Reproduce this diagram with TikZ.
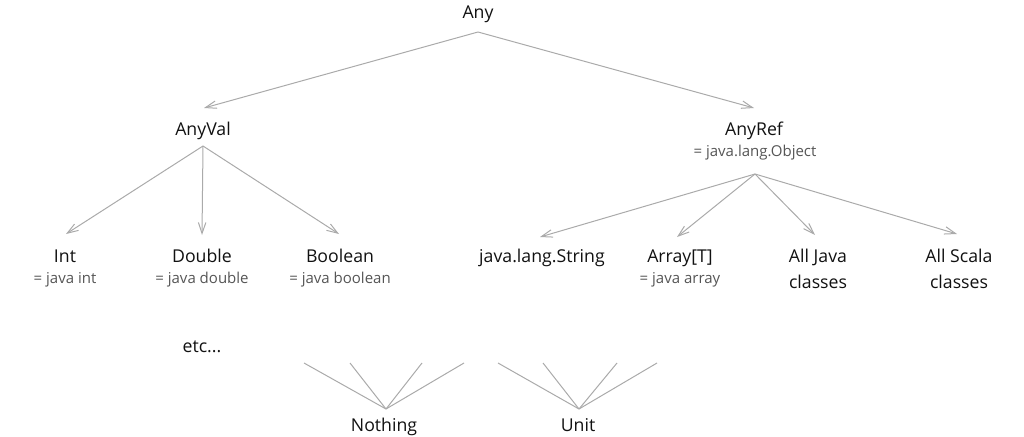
\documentclass[tikz,border=0pt]{standalone}
\usepackage{fontspec}
\setmainfont{Open Sans}
\usetikzlibrary{arrows.meta}
\definecolor{linegray}{RGB}{170,170,170}
\definecolor{subgray}{RGB}{85,85,85}
\definecolor{txt}{RGB}{17,17,17}
\tikzset{
  mainlbl/.style={anchor=base, inner sep=0pt, text=txt, font=\fontsize{17.7}{26}\selectfont},
  sublbl/.style={anchor=base, inner sep=0pt, text=subgray, font=\fontsize{15}{18}\selectfont},
  conn/.style={draw=linegray, line width=1pt},
  arr/.style={conn, -{Straight Barb[length=11pt, width=7.5pt, line width=1pt]}},
}
\begin{document}
\begin{tikzpicture}[x=1pt, y=-1pt]
\useasboundingbox (0,0) rectangle (1024,436);
% nodes
\node[mainlbl] (any) at (478,19) {Any};
\node[mainlbl] (anyval) at (203,135) {AnyVal};
\node[mainlbl] (anyref) at (754,135) {AnyRef};
\node[sublbl] (anyrefsub) at (755,156) {= java.lang.Object};
\node[mainlbl] (int) at (65,262) {Int};
\node[sublbl] (intsub) at (65,283) {= java int};
\node[mainlbl] (double) at (202,262) {Double};
\node[sublbl] (doublesub) at (202,283) {= java double};
\node[mainlbl] (boolean) at (340,262) {Boolean};
\node[sublbl] (booleansub) at (340,283) {= java boolean};
\node[mainlbl] (string) at (542,262) {java.lang.String};
\node[mainlbl] (array) at (680,262) {Array[T]};
\node[sublbl] (arraysub) at (680,283) {= java array};
\node[mainlbl] (alljava) at (818,262) {\begin{tabular}[t]{@{}c@{}}All Java\\classes\end{tabular}};
\node[mainlbl] (allscala) at (959,262) {\begin{tabular}[t]{@{}c@{}}All Scala\\classes\end{tabular}};
\node[mainlbl] (etc) at (202,352) {etc...};
\node[mainlbl] (nothing) at (384,431) {Nothing};
\node[mainlbl] (unit) at (578,431) {Unit};
% apex points
\coordinate (anyapex) at ([yshift=-13pt]any.base);
\coordinate (anyvalapex) at ([yshift=-11pt]anyval.base);
\coordinate (anyrefapex) at ([yshift=-18pt]anyrefsub.base);
\coordinate (nothingapex) at ([xshift=2pt,yshift=22pt]nothing.base);
\coordinate (unitapex) at ([xshift=1pt,yshift=22pt]unit.base);
% free ends of the bottom fans
\coordinate (n1) at (304,363);
\coordinate (n2) at (350,363);
\coordinate (n3) at (422,363);
\coordinate (n4) at (464,363);
\coordinate (u1) at (498,363);
\coordinate (u2) at (543,363);
\coordinate (u3) at (617,363);
\coordinate (u4) at (657,363);
% arrows
\draw[arr] (anyapex) -- ([xshift=1pt,yshift=27pt]anyval.base);
\draw[arr] (anyapex) -- ([yshift=27pt]anyref.base);
\draw[arr] (anyvalapex) -- ([xshift=1pt,yshift=28pt]int.base);
\draw[arr] (anyvalapex) -- ([yshift=27pt]double.base);
\draw[arr] (anyvalapex) -- ([xshift=-1pt,yshift=28pt]boolean.base);
\draw[arr] (anyrefapex) -- ([xshift=-2pt,yshift=25pt]string.base);
\draw[arr] (anyrefapex) -- ([xshift=-3pt,yshift=25pt]array.base);
\draw[arr] (anyrefapex) -- ([xshift=-3pt,yshift=27pt]alljava.base);
\draw[arr] (anyrefapex) -- ([xshift=-2pt,yshift=28pt]allscala.base);
% bottom fans
\foreach \p in {n1,n2,n3,n4} \draw[conn] (\p) -- (nothingapex);
\foreach \p in {u1,u2,u3,u4} \draw[conn] (\p) -- (unitapex);
\end{tikzpicture}
\end{document}
